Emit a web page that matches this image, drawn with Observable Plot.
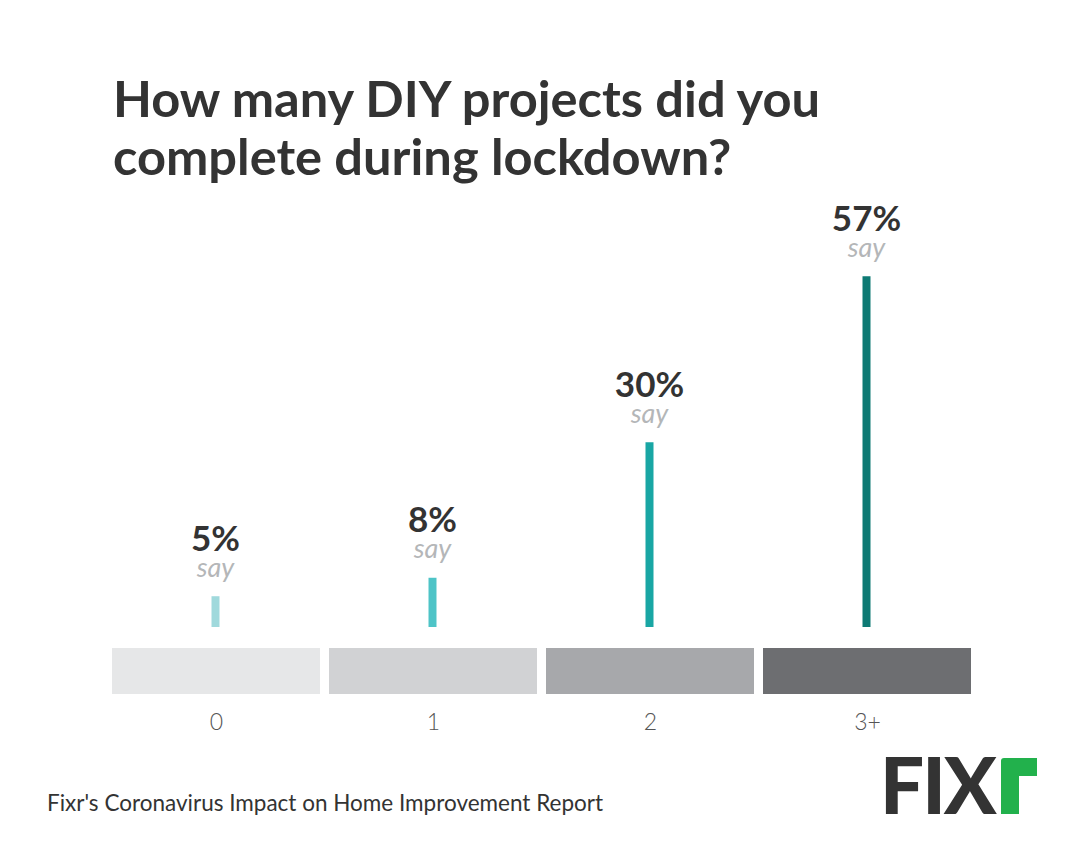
<!DOCTYPE html>
<html>
<head>
<meta charset="utf-8">
<script src="https://cdn.jsdelivr.net/npm/d3@7"></script>
<script src="https://cdn.jsdelivr.net/npm/@observablehq/plot@0.6"></script>
<style>
  html, body { margin: 0; padding: 0; background: #ffffff; }
  #page { position: relative; width: 1084px; height: 850px; overflow: hidden; font-family: Lato, "Open Sans", sans-serif; }
  #title { position: absolute; left: 113px; top: 69px; font-size: 50.6px; line-height: 58px; font-weight: 700; color: #333333; white-space: nowrap; }
  #bars { position: absolute; left: 0; top: 190px; }
  #strip { position: absolute; left: 0; top: 648px; }
  #source { position: absolute; left: 47px; top: 789px; font-size: 22.5px; line-height: 27px; color: #333333; white-space: nowrap; }
  #logo { position: absolute; left: 860px; top: 715px; }
</style>
</head>
<body>
<div id="page">
  <div id="title">How many DIY projects did you<br>complete during lockdown?</div>
  <div id="bars"></div>
  <div id="strip"></div>
  <div id="source">Fixr's Coronavirus Impact on Home Improvement Report</div>
  <svg id="logo" width="210" height="125" viewBox="0 0 210 125">
    <text x="20" y="99" font-family="Lato" font-weight="900" font-size="78" fill="#333333" letter-spacing="-2">FIX</text>
    <path d="M141,46 Q141,43 144,43 L177,43 L177,61 L159,61 L159,99 L141,99 Z" fill="#22b14c"/>
  </svg>
</div>
<script>
const categories = ["0", "1", "2", "3+"];
const values = [5, 8, 30, 57];
const barColors = ["#a0d9dc", "#4ec4c7", "#19a6a4", "#0e7a74"];
const bandColors = ["#e6e7e8", "#d1d2d4", "#a7a8ab", "#6d6e71"];
const valueSuffix = "%";
const subLabel = "say";

const data = categories.map((c, i) => ({ cat: c, value: values[i], color: barColors[i], band: bandColors[i] }));

const bars = Plot.plot({
  width: 1084,
  height: 440,
  marginTop: 0,
  marginBottom: 3,
  marginLeft: 215,
  marginRight: 218,
  style: { fontFamily: "Lato, sans-serif", background: "transparent", overflow: "visible" },
  x: { type: "point", domain: categories, padding: 0, axis: null },
  y: { domain: [0, 71], axis: null },
  color: { type: "identity" },
  marks: [
    Plot.ruleX(data, { x: "cat", y: "value", stroke: "color", strokeWidth: 8 }),
    Plot.text(data, { x: "cat", y: "value", text: d => d.value + valueSuffix, dy: -46, lineAnchor: "bottom", fontSize: 35, fontWeight: 700, fill: "#333333" }),
    Plot.text(data, { x: "cat", y: "value", text: () => subLabel, dy: -20, lineAnchor: "bottom", fontSize: 27, fontStyle: "italic", fill: "#b4b6b8" })
  ]
});
document.getElementById("bars").appendChild(bars);

const strip = Plot.plot({
  width: 1084,
  height: 100,
  marginTop: 0,
  marginBottom: 54,
  marginLeft: 111,
  marginRight: 111,
  style: { fontFamily: "Lato, sans-serif", background: "transparent" },
  x: { type: "band", domain: categories, paddingInner: 0.04, paddingOuter: 0 },
  color: { type: "identity" },
  marks: [
    Plot.cell(data, { x: "cat", fill: "band", inset: 0 }),
    Plot.axisX({ tickSize: 0, tickPadding: 19, fontSize: 23, fontWeight: 300, fill: "#555555", label: null })
  ]
});
document.getElementById("strip").appendChild(strip);
</script>
</body>
</html>
